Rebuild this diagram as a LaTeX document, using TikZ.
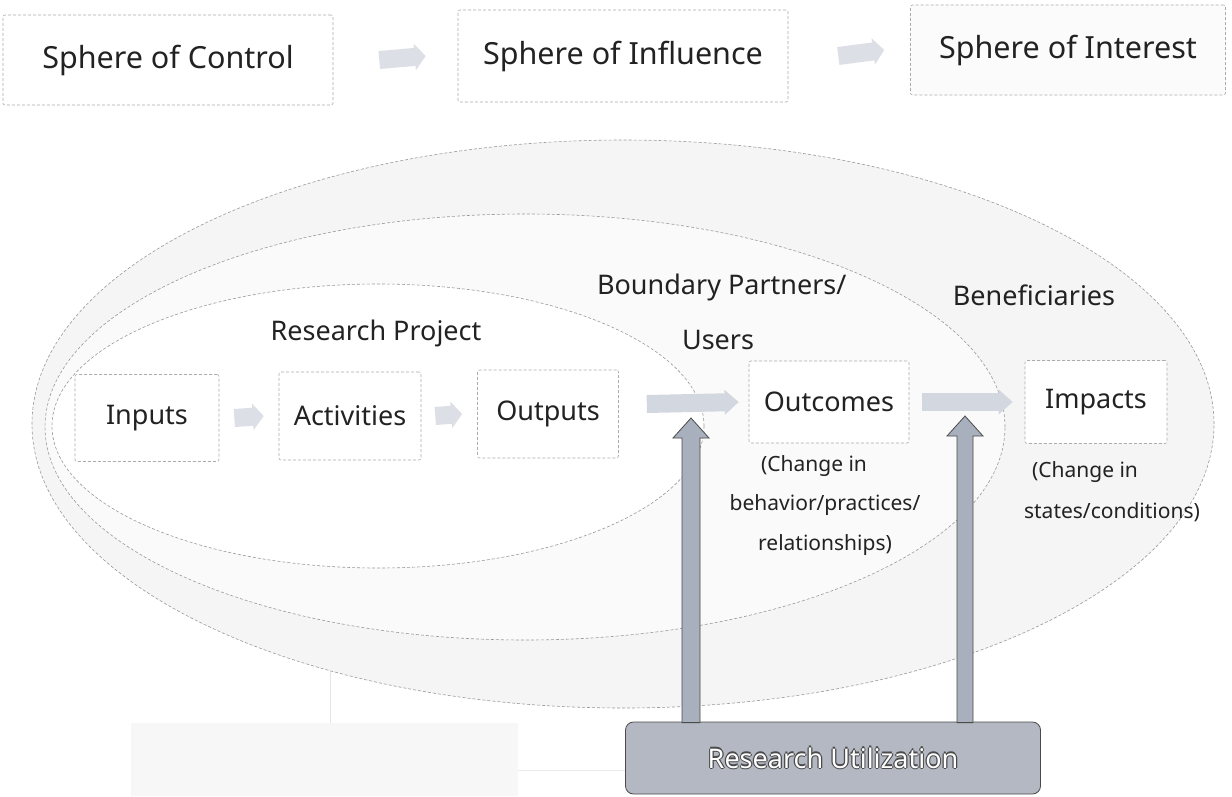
\documentclass[tikz,border=0pt]{standalone}
\usepackage{fontspec}
\setmainfont{Noto Sans}
\usetikzlibrary{calc,arrows.meta}
\definecolor{txt}{HTML}{222222}
\definecolor{lightarrow}{HTML}{D3D7DF}
\definecolor{faintarrow}{HTML}{DCDFE5}
\definecolor{midarrow}{HTML}{A9B0BD}
\definecolor{ruf}{HTML}{B3B8C2}
\definecolor{edge}{HTML}{4A4A4A}
\definecolor{ellline}{HTML}{9A9A9A}
\newcommand\rutxt[1]{\leavevmode
  \makebox[0pt][l]{\color{edge}\hspace{-1.2pt}#1}%
  \makebox[0pt][l]{\color{edge}\hspace{1.2pt}#1}%
  \makebox[0pt][l]{\color{edge}\raisebox{1.2pt}{#1}}%
  \makebox[0pt][l]{\color{edge}\raisebox{-1.2pt}{#1}}%
  {\color{white}#1}}
\begin{document}
\begin{tikzpicture}[x=1pt,y=-1pt,
  sbox/.style={draw=gray!65, densely dashed, line width=0.6pt, fill=white,
    rounded corners=2pt, inner sep=0pt, text=txt},
  toptext/.style={font=\fontsize{30.5}{36}\selectfont},
  midtext/.style={font=\fontsize{27}{32}\selectfont, text=txt},
  smalltext/.style={font=\fontsize{21}{25}\selectfont, text=txt},
  ell/.style={draw=ellline, densely dashed, line width=0.6pt},
  harrow/.style={color=faintarrow, line width=18pt,
    -{Triangle[length=11pt,width=26pt]}},
  larrow/.style={color=lightarrow, line width=18pt,
    -{Triangle[length=14pt,width=24pt]}},
  varrow/.style={fill=midarrow, draw=edge, line width=0.8pt},
  rubox/.style={fill=ruf, draw=edge, line width=0.8pt, rounded corners=8pt,
    minimum width=415pt, minimum height=72pt,
    font=\fontsize{27}{32}\selectfont}
]
\useasboundingbox (0,0) rectangle (1232,796);
\fill[white] (0,0) rectangle (1232,796);

% faint background patch bottom-left
\fill[gray!6] (131,723) rectangle (518,796);
\draw[gray!20, line width=0.6pt] (330,460) -- (330,723);
\draw[gray!15, line width=0.6pt] (518,770) -- (625,770);

% spheres (ellipses)
\draw[ell, fill=gray!8] (623,424) ellipse [x radius=591pt, y radius=284pt];
\draw[ell, fill=gray!4] (525,427) ellipse [x radius=480pt, y radius=213pt];
\draw[ell, fill=white] (378,426) ellipse [x radius=326pt, y radius=142pt];

% top row
\node[sbox, toptext, minimum width=330pt, minimum height=90pt] (ctrl) at (168,60) {Sphere of Control};
\node[sbox, toptext, minimum width=330pt, minimum height=92pt] (infl) at (623,56) {Sphere of Influence};
\node[sbox, toptext, minimum width=315pt, minimum height=90pt, fill=gray!3] (intr) at (1068,50) {Sphere of Interest};
\draw[harrow] ($(ctrl.east)+(46,0)$) -- ($(infl.west)+(-32,0)$);
\draw[harrow] ($(infl.east)+(50,0)$) -- ($(intr.west)+(-26,0)$);

% labels
\node[midtext] (rp) at (376,333) {Research Project};
\node[midtext, anchor=east] (bp) at (850,287) {Boundary Partners/};
\node[midtext] (us) at (718,340) {Users};
\node[midtext] (ben) at (1034,295) {Beneficiaries};

% chain boxes
\node[sbox, midtext, minimum width=144pt, minimum height=87pt] (inp) at (147,418) {Inputs};
\node[sbox, midtext, minimum width=142pt, minimum height=88pt] (act) at (350,416) {Activities};
\node[sbox, midtext, minimum width=141pt, minimum height=88pt] (outp) at (548,414) {Outputs};
\node[sbox, midtext, minimum width=160pt, minimum height=82pt] (outc) at (829,402) {Outcomes};
\node[sbox, midtext, minimum width=142pt, minimum height=83pt] (imp) at (1096,402) {Impacts};

\draw[harrow] ($(inp.east)+(15,0)$) -- ($(act.west)+(-15,0)$);
\draw[harrow] ($(act.east)+(14,0)$) -- ($(outp.west)+(-15,0)$);
\draw[larrow] ($(outp.east)+(28,-10)$) -- ($(outc.west)+(-10,0)$);
\draw[larrow] ($(outc.east)+(13,0)$) -- ($(imp.west)+(-12,0)$);

% notes
\node[smalltext] (oc1) at (814,466) {(Change in};
\node[smalltext] (oc2) at (825,505) {behavior/practices/};
\node[smalltext] (oc3) at (825,545) {relationships)};
\node[smalltext] (im1) at (1085,472) {(Change in};
\node[smalltext] (im2) at (1112,512) {states/conditions)};

% research utilization
\node[rubox] (ru) at (833,758) {\rutxt{Research Utilization}};
\coordinate (t1) at (691,418);
\coordinate (t2) at (965,416);
\draw[varrow] ($(t1 |- ru.north)+(-9,1)$) -- ($(t1)+(-9,20)$) -- ($(t1)+(-18,20)$) -- (t1)
  -- ($(t1)+(18,20)$) -- ($(t1)+(9,20)$) -- ($(t1 |- ru.north)+(9,1)$) -- cycle;
\draw[varrow] ($(t2 |- ru.north)+(-8,1)$) -- ($(t2)+(-8,20)$) -- ($(t2)+(-18,20)$) -- (t2)
  -- ($(t2)+(18,20)$) -- ($(t2)+(8,20)$) -- ($(t2 |- ru.north)+(8,1)$) -- cycle;
\end{tikzpicture}
\end{document}
